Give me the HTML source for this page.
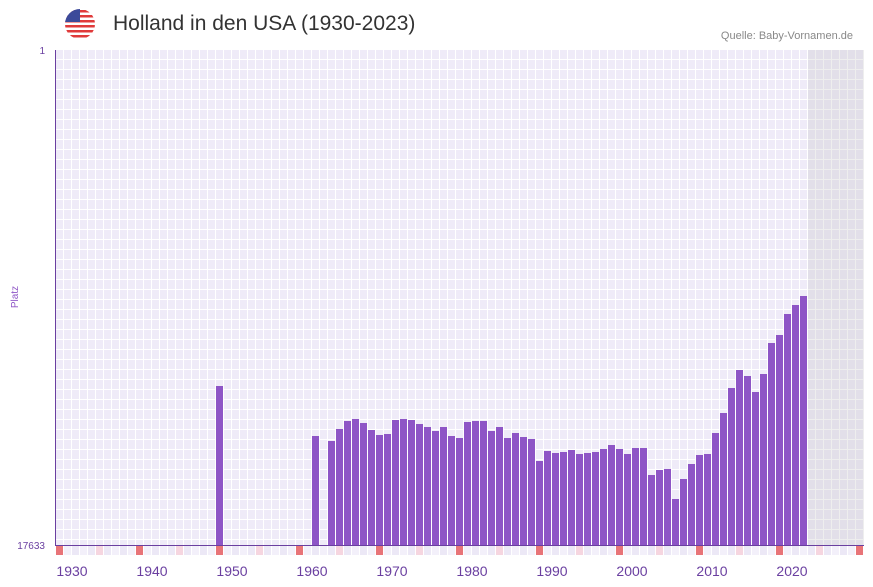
<!DOCTYPE html>
<html><head><style>
body{margin:0;width:873px;height:587px;background:#fff;font-family:"Liberation Sans",sans-serif;position:relative;overflow:hidden}
.t{position:absolute;left:113px;top:12px;font-size:21px;color:#333}
.q{position:absolute;right:20px;top:30px;font-size:11px;color:#888}
</style></head><body>
<svg width="873" height="587" style="position:absolute;left:0;top:0">
<defs>
<clipPath id="c"><circle cx="80" cy="24" r="15"/></clipPath>
<pattern id="g" x="56" y="50" width="8" height="10" patternUnits="userSpaceOnUse">
<rect width="8" height="10" fill="#efebf8"/>
<rect x="7" width="1" height="10" fill="#fff"/><rect y="9" width="8" height="1" fill="#fff"/>
</pattern>
</defs>
<g clip-path="url(#c)">
<rect x="65" y="9" width="30" height="30" fill="#fff"/>
<rect x="65" y="10" width="30" height="2.5" fill="#e03a3a"/>
<rect x="65" y="15" width="30" height="2.5" fill="#e03a3a"/>
<rect x="65" y="20" width="30" height="2.5" fill="#e03a3a"/>
<rect x="65" y="25" width="30" height="2.5" fill="#e03a3a"/>
<rect x="65" y="30" width="30" height="2.5" fill="#e03a3a"/>
<rect x="65" y="35" width="30" height="2.5" fill="#e03a3a"/>
<rect x="65" y="9" width="15" height="13" fill="#3c4a9a"/>
</g>
<rect x="56" y="50" width="808" height="495" fill="url(#g)"/>
<rect x="808" y="50" width="56" height="495" fill="#bbb" opacity="0.25"/>
<g fill="#8e55c6" id="bars"></g>
<line x1="55.5" y1="50" x2="55.5" y2="546" stroke="#6a3fa0" stroke-width="1"/>
<line x1="55" y1="545.5" x2="864" y2="545.5" stroke="#6a3fa0" stroke-width="1"/>
<g id="mk"></g>
<g font-size="10" fill="#6a3fa0" text-anchor="end"><text x="45" y="54">1</text><text x="45" y="549">17633</text></g>
<text x="18" y="297" font-size="10" fill="#8e55c6" transform="rotate(-90 18 297)" text-anchor="middle">Platz</text>
<g font-size="14" fill="#6a3fa0" text-anchor="middle" id="lb"></g>
</svg>
<div class="t">Holland in den USA (1930-2023)</div>
<div class="q">Quelle: Baby-Vornamen.de</div>
<script>
var d={1948:386,1960:436,1962:441,1963:429,1964:421,1965:419,1966:423,1967:430,1968:435,1969:434,1970:420,1971:419,1972:420,1973:424,1974:427,1975:431,1976:427,1977:436,1978:438,1979:422,1980:421,1981:421,1982:431,1983:427,1984:438,1985:433,1986:437,1987:439,1988:461,1989:451,1990:453,1991:452,1992:450,1993:454,1994:453,1995:452,1996:449,1997:445,1998:449,1999:454,2000:448,2001:448,2002:475,2003:470,2004:469,2005:499,2006:479,2007:464,2008:455,2009:454,2010:433,2011:413,2012:388,2013:370,2014:376,2015:392,2016:374,2017:343,2018:335,2019:314,2020:305,2021:296};
var s="";
for(var y in d){var x=56+(y-1928)*8;s+='<rect x="'+x+'" y="'+d[y]+'" width="7" height="'+(545-d[y])+'"/>';}
document.getElementById('bars').innerHTML=s;
s="";
for(var y=1928;y<=2028;y++){var x=56+(y-1928)*8,c=(y-1928)%10==0?"#e87478":(y-1928)%10==5?"#f6d6e0":(y%2?"#f3f0fa":"#ece8f6");s+='<rect x="'+x+'" y="546" width="7" height="9" fill="'+c+'"/>';}
document.getElementById('mk').innerHTML=s;
s="";
for(var y=1930;y<=2020;y+=10){s+='<text x="'+(72+(y-1930)*8)+'" y="576">'+y+'</text>';}
document.getElementById('lb').innerHTML=s;
</script>
</body></html>
